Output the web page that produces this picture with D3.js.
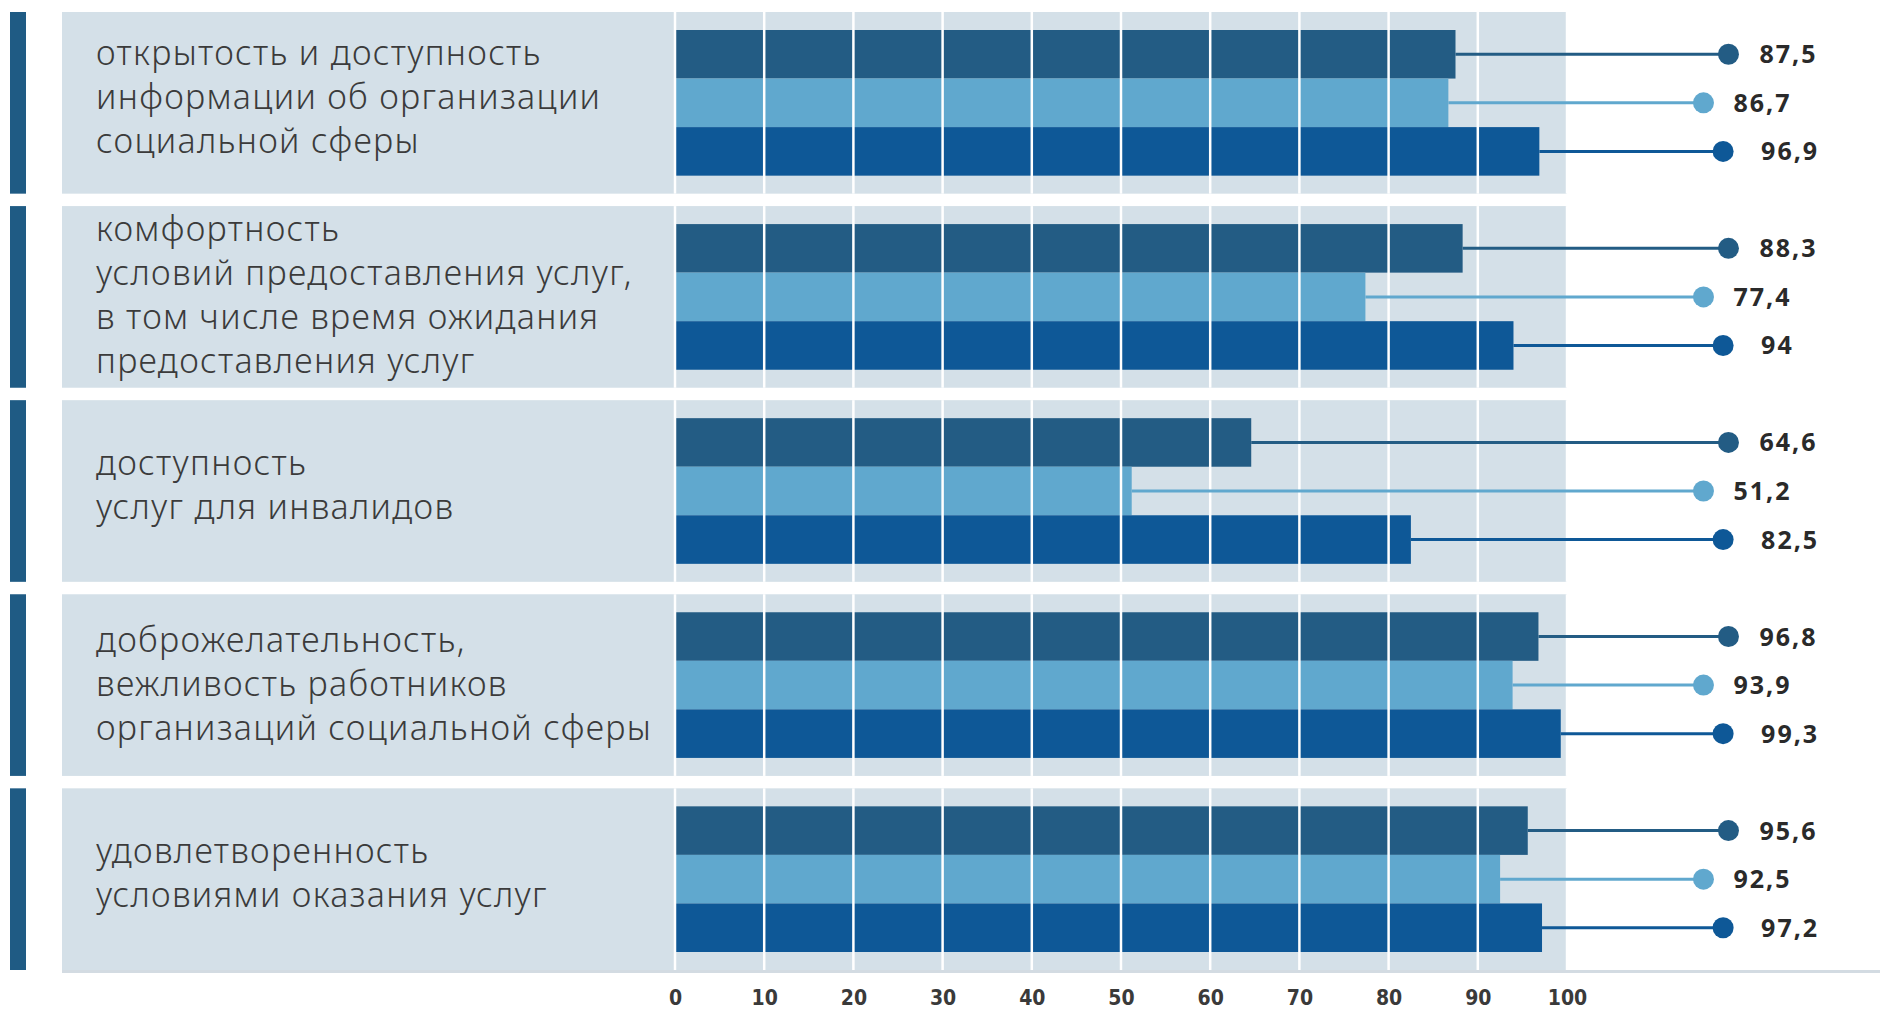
<!DOCTYPE html>
<html>
<head>
<meta charset="utf-8">
<script src="https://cdn.jsdelivr.net/npm/d3@7"></script>
<style>
  body { margin: 0; background: #fff; }
  svg { display: block; }
</style>
</head>
<body>
<div id="chart"></div>
<script>
var width = 1880,
  height = 1010;

// categories (label lines)
var categories = [
  ['открытость и доступность', 'информации об организации', 'социальной сферы'],
  ['комфортность', 'условий предоставления услуг,', 'в том числе время ожидания', 'предоставления услуг'],
  ['доступность', 'услуг для инвалидов'],
  ['доброжелательность,', 'вежливость работников', 'организаций социальной сферы'],
  ['удовлетворенность', 'условиями оказания услуг']
];

// three series, one value per category
var seriesA = [87.5, 88.3, 64.6, 96.8, 95.6];
var seriesB = [86.7, 77.4, 51.2, 93.9, 92.5];
var seriesC = [96.9, 94, 82.5, 99.3, 97.2];

var tickValues = [0, 10, 20, 30, 40, 50, 60, 70, 80, 90, 100];

var series = [seriesA, seriesB, seriesC];
var colors = ['#235c84', '#60a8ce', '#0e5897'];
var dotAt = [118.1, 115.3, 117.5]; // where the marker dots sit, in axis units
var labelGap = [31, 30, 38];
var textNudge = [0, 4, 0, 5, 0];

var svg = d3.select('#chart')
  .append('svg')
  .attr('width', width)
  .attr('height', height);

var x = d3.scaleLinear().domain([0, 100]).range([675, 1567]);

var y = d3.scaleBand()
  .domain(d3.range(categories.length))
  .range([12, 970])
  .paddingInner(0.064);

var inner = d3.scaleBand()
  .domain([0, 1, 2])
  .range([18, y.bandwidth() - 18]);

// bottom shadow line
svg.append('rect')
  .attr('x', 62)
  .attr('y', 970)
  .attr('width', width - 62)
  .attr('height', 3)
  .style('fill', '#d3dbe2');

var rows = svg.selectAll('g.row')
  .data(categories)
  .enter()
  .append('g')
  .attr('class', 'row')
  .attr('transform', function (d, i) {
    return 'translate(0,' + y(i) + ')';
  });

// left accent
rows.append('rect')
  .attr('x', 10)
  .attr('y', 0)
  .attr('width', 16)
  .attr('height', y.bandwidth())
  .style('fill', '#1f5b84');

// panel
rows.append('rect')
  .attr('x', 62)
  .attr('y', 0)
  .attr('width', x(100) - 62)
  .attr('height', y.bandwidth())
  .style('fill', '#d4e0e8');

// label text
rows.append('text')
  .attr('x', 96)
  .attr('y', function (d, i) {
    return y.bandwidth() / 2 - 7 + textNudge[i] - (d.length - 1) * 44 / 2;
  })
  .style('font-family', '"Noto Sans", sans-serif')
  .style('font-size', '34px')
  .style('font-weight', 300)
  .style('fill', '#3b3b3b')
  .style('letter-spacing', '1.3px')
  .selectAll('tspan')
  .data(function (d) { return d; })
  .enter()
  .append('tspan')
  .attr('x', 96)
  .attr('dy', function (d, i) { return i === 0 ? 0 : 44; })
  .attr('dominant-baseline', 'central')
  .text(function (d) { return d; });

// bars
series.forEach(function (vals, s) {
  rows.append('rect')
    .attr('x', x(0))
    .attr('y', inner(s))
    .attr('width', function (d, i) { return x(vals[i]) - x(0); })
    .attr('height', inner.bandwidth())
    .style('fill', colors[s]);
});

// white grid lines over the bars
rows.selectAll('line.grid')
  .data(tickValues)
  .enter()
  .append('line')
  .attr('class', 'grid')
  .attr('x1', function (d) { return x(d); })
  .attr('x2', function (d) { return x(d); })
  .attr('y1', 0)
  .attr('y2', y.bandwidth())
  .style('stroke', '#ffffff')
  .style('stroke-width', 2.5);

// leader lines, dots and value labels
series.forEach(function (vals, s) {
  var cy = function () { return inner(s) + inner.bandwidth() / 2; };

  rows.append('line')
    .attr('x1', function (d, i) { return x(vals[i]); })
    .attr('x2', x(dotAt[s]))
    .attr('y1', cy)
    .attr('y2', cy)
    .style('stroke', colors[s])
    .style('stroke-width', 3);

  rows.append('circle')
    .attr('cx', x(dotAt[s]))
    .attr('cy', cy)
    .attr('r', 10.5)
    .style('fill', colors[s]);

  rows.append('text')
    .attr('x', x(dotAt[s]) + labelGap[s])
    .attr('y', cy)
    .attr('dy', '0.36em')
    .style('font-family', '"Open Sans", sans-serif')
    .style('font-weight', 700)
    .style('font-size', '25px')
    .style('letter-spacing', '2px')
    .style('fill', '#2a2a2a')
    .text(function (d, i) { return String(vals[i]).replace('.', ','); });
});

// axis
var xAxis = d3.axisBottom(x)
  .tickValues(tickValues)
  .tickSize(0)
  .tickPadding(0);

var axisG = svg.append('g')
  .attr('transform', 'translate(0, 990)')
  .call(xAxis);

axisG.select('.domain').remove();
axisG.selectAll('text')
  .style('font-family', '"Liberation Sans Narrow", "DejaVu Sans Condensed", sans-serif')
  .style('font-weight', 700)
  .style('font-size', '21px')
  .style('fill', '#3a3a3a');
</script>
</body>
</html>
